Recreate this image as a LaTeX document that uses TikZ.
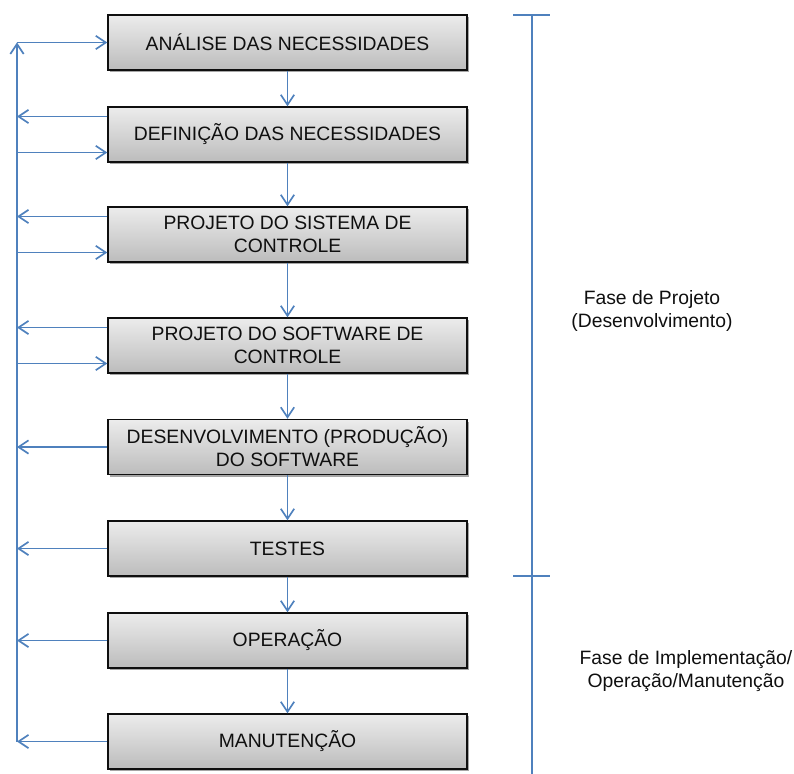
\documentclass[tikz,border=0pt]{standalone}
\usepackage{fontspec}
\setmainfont{Liberation Sans}
\usetikzlibrary{arrows.meta,shadows,calc}
\definecolor{flowblue}{RGB}{79,129,189}
\definecolor{boxtop}{RGB}{236,236,236}
\definecolor{boxbot}{RGB}{188,188,188}
\definecolor{ink}{RGB}{15,15,15}
\tikzset{
  stage/.style={draw=ink, line width=1.1pt, rectangle,
    minimum width=269.25pt, minimum height=41.25pt, inner sep=2pt,
    top color=boxtop, bottom color=boxbot, align=center, text=ink,
    font=\fontsize{14.5}{17.3}\selectfont,
    drop shadow={shadow xshift=1.6pt, shadow yshift=-1.6pt, opacity=0.35, fill=black}},
  flow/.style={draw=flowblue, line width=1.25pt, -{Straight Barb[length=7.5pt,width=10pt]}},
  rule/.style={draw=flowblue, line width=1.25pt},
  phase/.style={align=center, text=ink, font=\fontsize{14.5}{17.8}\selectfont}
}
\begin{document}
\begin{tikzpicture}[x=0.75pt, y=-0.75pt]
\useasboundingbox (0,0) rectangle (794,774);

% stages of the life cycle
\node[stage] (b1) at (287.5,42.5)  {ANÁLISE DAS NECESSIDADES};
\node[stage] (b2) at (287.5,134.5) {DEFINIÇÃO DAS NECESSIDADES};
\node[stage] (b3) at (287.5,234.5) {PROJETO DO SISTEMA DE\\CONTROLE};
\node[stage] (b4) at (287.5,345.5) {PROJETO DO SOFTWARE DE\\CONTROLE};
\node[stage] (b5) at (287.5,447)   {DESENVOLVIMENTO (PRODUÇÃO)\\DO SOFTWARE};
\node[stage] (b6) at (287.5,548.5) {TESTES};
\node[stage] (b7) at (287.5,640.5) {OPERAÇÃO};
\node[stage] (b8) at (287.5,741.5) {MANUTENÇÃO};

% forward flow between stages
\foreach \a/\b in {b1/b2,b2/b3,b3/b4,b4/b5,b5/b6,b6/b7,b7/b8}
  \draw[flow] (\a.south) -- (\b.north);

% feedback rail on the left
\coordinate (railtop) at (17,42.5);
\coordinate (railbot) at (17,741.5);
\draw[flow] (railbot) -- (railtop);
\draw[flow] (railtop) -- (b1.west);

% returns into the rail and re-entries into the stages
\foreach \s in {b2,b3,b4}{
  \coordinate (\s out) at ($(\s.west)+(0,-18)$);
  \coordinate (\s in)  at ($(\s.west)+(0,18)$);
  \draw[flow] (\s out) -- (\s out -| railtop);
  \draw[flow] (\s in -| railtop) -- (\s in);
}
\foreach \s in {b5,b6,b7,b8}
  \draw[flow] (\s.west) -- (\s.west -| railtop);

% phase bracket
\draw[rule] (532,15) -- (532,774);
\draw[rule] (513,15) -- (550,15);
\draw[rule] (513,576) -- (550,576);

\node[phase] (p1) at (652,311) {Fase de Projeto\\(Desenvolvimento)};
\node[phase] (p2) at (686,671) {Fase de Implementação/\\Operação/Manutenção};
\end{tikzpicture}
\end{document}
